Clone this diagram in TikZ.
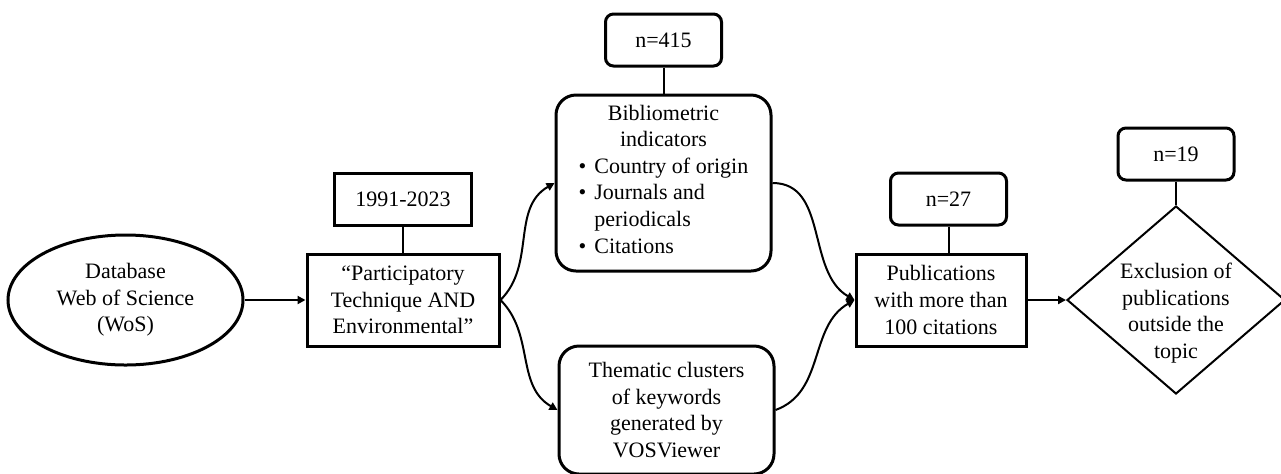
\documentclass[tikz,border=0pt]{standalone}
\usepackage{fontspec}
\setmainfont{Liberation Serif}
\usetikzlibrary{arrows.meta, positioning, shapes.geometric}
\tikzset{
  txt/.style={font=\fontsize{11pt}{13.3pt}\selectfont, align=center, inner sep=2pt},
  sqbox/.style={txt, draw, line width=1.5pt},
  rndbox/.style={txt, draw, line width=1.5pt, rounded corners=10pt},
  countbox/.style={txt, draw, line width=1.5pt, rounded corners=4pt, minimum width=58pt, minimum height=26pt},
  dbshape/.style={txt, draw, ellipse, line width=1.5pt, minimum width=117.5pt, minimum height=65pt, inner sep=0pt},
  decision/.style={draw, diamond, line width=1pt, minimum width=109pt, minimum height=94pt, inner sep=0pt},
  arrow/.style={-{Triangle[length=4pt, width=4pt]}, line width=1pt},
  link/.style={line width=1pt}
}

\begin{document}
\begin{tikzpicture}
\useasboundingbox (0,0) rectangle (640.5pt,-236.5pt);
\node[dbshape] (db) at (62.75pt,-150pt) {Database\\Web of Science\\(WoS)};
\node[sqbox, right=30.5pt of db, minimum width=96pt, minimum height=46pt] (query) {“Participatory\\Technique AND\\Environmental”};
\node[sqbox, above=13pt of query, minimum width=68.5pt, minimum height=26pt] (period) {1991-2023};
\node[rndbox, right=27pt of query, yshift=58.5pt, minimum width=107.5pt, minimum height=88pt] (biblio) {Bibliometric\\indicators\\%
  \begin{tabular}[t]{@{}l@{\hspace{4pt}}l@{}}
    \textbullet & Country of origin\\
    \textbullet & Journals and\\
                & periodicals\\
    \textbullet & Citations
  \end{tabular}};
\node[rndbox, right=28.5pt of query, yshift=-55pt, minimum width=107.5pt, minimum height=64pt] (cluster) {Thematic clusters\\of keywords\\generated by\\VOSViewer};
\node[countbox, above=13pt of biblio] (n415) {n=415};
\node[sqbox, right=177pt of query, minimum width=85pt, minimum height=46pt] (pub) {Publications\\with more than\\100 citations};
\node[countbox, above=13pt of pub, xshift=3.75pt] (n27) {n=27};
\node[decision, right=19.25pt of pub,
      label={[txt, yshift=-6.5pt]center:Exclusion of\\publications\\outside the\\topic}] (excl) {};
\node[countbox, above=11.75pt of excl] (n19) {n=19};

\draw[arrow] (db) -- (query);
\draw[link] (period) -- (query);
\draw[arrow] (query.east) to[out=45, in=210] (biblio.west);
\draw[arrow] (query.east) to[out=-45, in=150] (cluster.west);
\draw[link] (n415) -- (biblio);
\draw[arrow] (biblio.east) to[out=0, in=150] (pub.west);
\draw[arrow] (cluster.east) to[out=20, in=210] (pub.west);
\draw[link] (n27.south) -- (n27.south |- pub.north);
\draw[arrow] (pub) -- (excl);
\draw[link] (n19) -- (excl);
\end{tikzpicture}
\end{document}
